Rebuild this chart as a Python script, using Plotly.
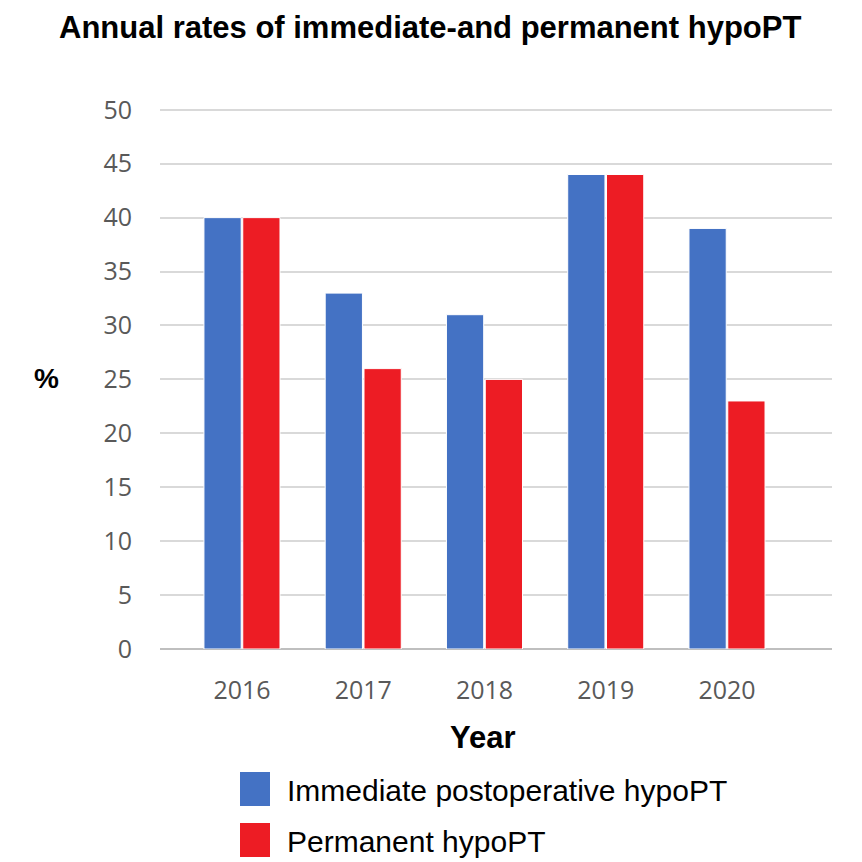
import plotly.graph_objects as go

years = ["2016", "2017", "2018", "2019", "2020"]
immediate = [40, 33, 31, 44, 39]
permanent = [40, 26, 25, 44, 23]
series_names = ["Immediate postoperative hypoPT", "Permanent hypoPT"]
colors = ["#4472C4", "#ED1C24"]
y_ticks = [0, 5, 10, 15, 20, 25, 30, 35, 40, 45, 50]

W = H = 862
OFF = 8  # page body margin
L, R, T, B = 152, 38, 91, 221
PW, PH = W - L - R, H - T - B


def px(x):
    return (x - OFF - L) / PW


def py(y):
    return (H - (y - OFF) - B) / PH


fig = go.Figure()
for name, vals, c in zip(series_names, [immediate, permanent], colors):
    fig.add_trace(go.Bar(x=years, y=vals, name=name, marker=dict(color=c, line=dict(color="white", width=1)),
                         showlegend=False))

fig.update_layout(
    width=W, height=H, margin=dict(l=L, r=R, t=T, b=B),
    plot_bgcolor="white", paper_bgcolor="white",
    barmode="group", bargap=0.36, bargroupgap=0.04,
    xaxis=dict(type="category", range=[-0.676, 4.866], showgrid=False, showline=False, ticks="",
               tickfont=dict(family="Open Sans", size=25, color="#595959"), ticklabelstandoff=24),
    yaxis=dict(range=[0, 51], tickvals=y_ticks, showgrid=True, gridcolor="#D9D9D9", gridwidth=2,
               zeroline=True, zerolinecolor="#BFBFBF", zerolinewidth=2, showline=False, ticks="",
               tickfont=dict(family="Open Sans", size=25, color="#595959"), ticklabelstandoff=27),
    font=dict(family="Liberation Sans"),
)

ann = []
ann.append(dict(text="<b>Annual rates of immediate-and permanent hypoPT</b>", x=px(430), y=py(28),
                font=dict(family="Liberation Sans", size=31, color="black"), xanchor="center"))
ann.append(dict(text="<b>%</b>", x=px(46), y=py(379), font=dict(family="Liberation Sans", size=28, color="black"),
                xanchor="center"))
ann.append(dict(text="<b>Year</b>", x=px(483), y=py(737), font=dict(family="Liberation Sans", size=31, color="black"),
                xanchor="center"))
shapes = []
leg_y = [789, 840]
for name, c, yy in zip(series_names, colors, leg_y):
    shapes.append(dict(type="rect", xref="paper", yref="paper", x0=px(240), x1=px(270), y0=py(yy + 17), y1=py(yy - 17),
                       fillcolor=c, line=dict(width=0)))
    ann.append(dict(text=name, x=px(285), y=py(yy + 1), font=dict(family="Liberation Sans", size=30, color="black"),
                    xanchor="left"))
for a in ann:
    a.update(xref="paper", yref="paper", showarrow=False, yanchor="middle")
fig.update_layout(annotations=ann, shapes=shapes)

fig.write_html("out.html")
